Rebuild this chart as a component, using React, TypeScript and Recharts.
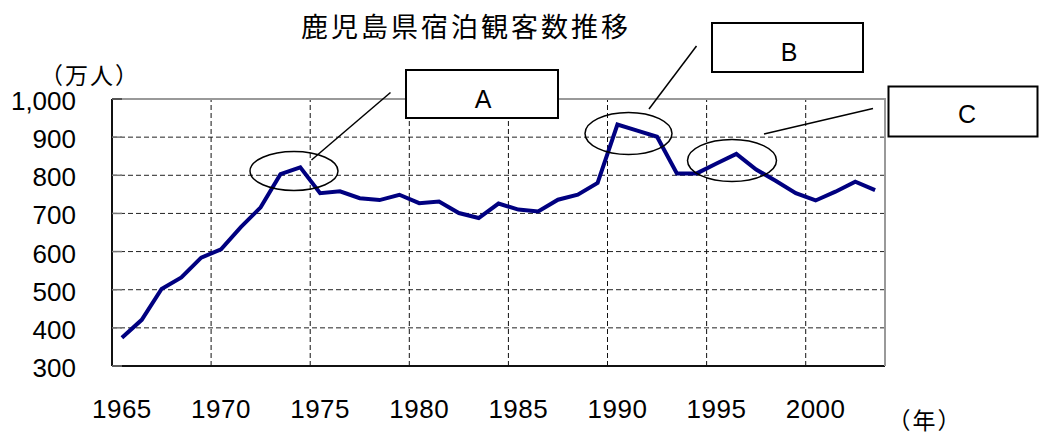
import React from 'react';
import { LineChart, Line, XAxis, YAxis, CartesianGrid, ReferenceLine } from 'recharts';

const years = [
  1965, 1966, 1967, 1968, 1969, 1970, 1971, 1972, 1973, 1974,
  1975, 1976, 1977, 1978, 1979, 1980, 1981, 1982, 1983, 1984,
  1985, 1986, 1987, 1988, 1989, 1990, 1991, 1992, 1993, 1994,
  1995, 1996, 1997, 1998, 1999, 2000, 2001, 2002, 2003,
];
const visitors = [
  374, 421, 502, 532, 584, 606, 664, 716, 803, 821,
  753, 758, 740, 735, 749, 727, 731, 701, 688, 726,
  710, 705, 736, 749, 780, 933, 917, 901, 805, 805,
  831, 856, 815, 785, 753, 734, 757, 783, 761,
];
const xTickYears = [1965, 1970, 1975, 1980, 1985, 1990, 1995, 2000];
const gridYears = [1970, 1975, 1980, 1985, 1990, 1995, 2000];
const yTicks = [300, 400, 500, 600, 700, 800, 900, 1000];
const title = '鹿児島県宿泊観客数推移';
const yUnit = '（万人）';
const xUnit = '（年）';
const calloutLabels = ['A', 'B', 'C'];

const data = years.map((year, i) => ({ year, v: visitors[i] }));

const FONT_NUM = '"Liberation Sans", Arial, sans-serif';
const FONT_JP = '"Noto Sans CJK JP", "Noto Sans CJK SC", sans-serif';

const fmt = (v: number) => v.toLocaleString('en-US');

function XTick(props: any) {
  const { x, y, payload } = props;
  return (
    <text x={x} y={y + 43} textAnchor="middle" dominantBaseline="central" fontSize={26} fontFamily={FONT_NUM} fill="#000" letterSpacing={0.5}>
      {payload.value}
    </text>
  );
}

function YTick(props: any) {
  const { x, y, payload } = props;
  return (
    <g>
      <line x1={x} x2={x + 10} y1={y} y2={y} stroke="#777" strokeWidth={1.5} />
      <text x={x - 36} y={y + 2} textAnchor="end" dominantBaseline="central" fontSize={26} fontFamily={FONT_NUM} fill="#000">
        {fmt(payload.value)}
      </text>
    </g>
  );
}

// annotation geometry (pixels)
const ellipses = [
  { cx: 294, cy: 171, rx: 44, ry: 19.5 },
  { cx: 628.5, cy: 133.5, rx: 43.5, ry: 21 },
  { cx: 732, cy: 160.5, rx: 44.5, ry: 21 },
];
const connectors = [
  { x1: 311.5, y1: 160, x2: 390.5, y2: 92.5 },
  { x1: 649, y1: 109, x2: 696.5, y2: 46 },
  { x1: 764, y1: 134, x2: 873, y2: 108.5 },
];
const boxes = [
  { x: 406, y: 70, w: 152, h: 48, tx: 483, ty: 99 },
  { x: 712, y: 23, w: 151, h: 49, tx: 789, ty: 51.5 },
  { x: 888.5, y: 86.5, w: 149, h: 50, tx: 967, ty: 114 },
];

export default function App() {
  return (
    <div style={{ position: 'absolute', left: 0, top: 0, width: 1039, height: 436, background: '#fff' }}>
      <LineChart width={1039} height={436} data={data} margin={{ top: 99, right: 154, bottom: 0, left: 0 }}>
        <CartesianGrid vertical={false} stroke="#222" strokeDasharray="5 3" strokeWidth={1} />
        {gridYears.map((g) => (
          <ReferenceLine key={g} x={g - 0.5} stroke="#111" strokeDasharray="5 3" strokeWidth={1} />
        ))}
        <XAxis
          dataKey="year"
          type="number"
          domain={[1964.5, 2003.5]}
          ticks={xTickYears}
          interval={0}
          tick={<XTick />}
          tickLine={false}
          tickSize={0}
          tickMargin={0}
          height={70}
          axisLine={{ stroke: '#111', strokeWidth: 2 }}
          allowDataOverflow
        />
        <YAxis
          type="number"
          domain={[300, 1000]}
          ticks={yTicks}
          interval={0}
          tick={<YTick />}
          tickLine={false}
          tickSize={0}
          tickMargin={0}
          width={112}
          axisLine={{ stroke: '#111', strokeWidth: 2 }}
          allowDataOverflow
        />
        <Line type="linear" dataKey="v" stroke="#000080" strokeWidth={4} dot={false} isAnimationActive={false} />
      </LineChart>
      <svg width={1039} height={436} style={{ position: 'absolute', left: 0, top: 0, pointerEvents: 'none' }}>
        <line x1={112} x2={886} y1={99} y2={99} stroke="#999" strokeWidth={2} />
        <line x1={885} x2={885} y1={98} y2={366} stroke="#999" strokeWidth={2} />
        <line x1={112} x2={122} y1={99} y2={99} stroke="#555" strokeWidth={2} />
        <text x={301} y={25} fontSize={27} letterSpacing={3} fontFamily={FONT_JP} dominantBaseline="central" fill="#000">
          {title}
        </text>
        <text x={90} y={74} fontSize={23} letterSpacing={2} fontFamily={FONT_JP} textAnchor="middle" dominantBaseline="central" fill="#000">
          {yUnit}
        </text>
        <text x={925} y={419} fontSize={23} letterSpacing={2} fontFamily={FONT_JP} textAnchor="middle" dominantBaseline="central" fill="#000">
          {xUnit}
        </text>
        {ellipses.map((e, i) => (
          <ellipse key={'e' + i} cx={e.cx} cy={e.cy} rx={e.rx} ry={e.ry} fill="none" stroke="#000" strokeWidth={1.5} />
        ))}
        {connectors.map((c, i) => (
          <line key={'c' + i} x1={c.x1} y1={c.y1} x2={c.x2} y2={c.y2} stroke="#000" strokeWidth={1.5} />
        ))}
        {boxes.map((b, i) => (
          <g key={'b' + i}>
            <rect x={b.x} y={b.y} width={b.w} height={b.h} fill="#fff" stroke="#000" strokeWidth={2} />
            <text x={b.tx} y={b.ty} fontSize={25} fontFamily={FONT_NUM} textAnchor="middle" dominantBaseline="central" fill="#000">
              {calloutLabels[i]}
            </text>
          </g>
        ))}
      </svg>
    </div>
  );
}
